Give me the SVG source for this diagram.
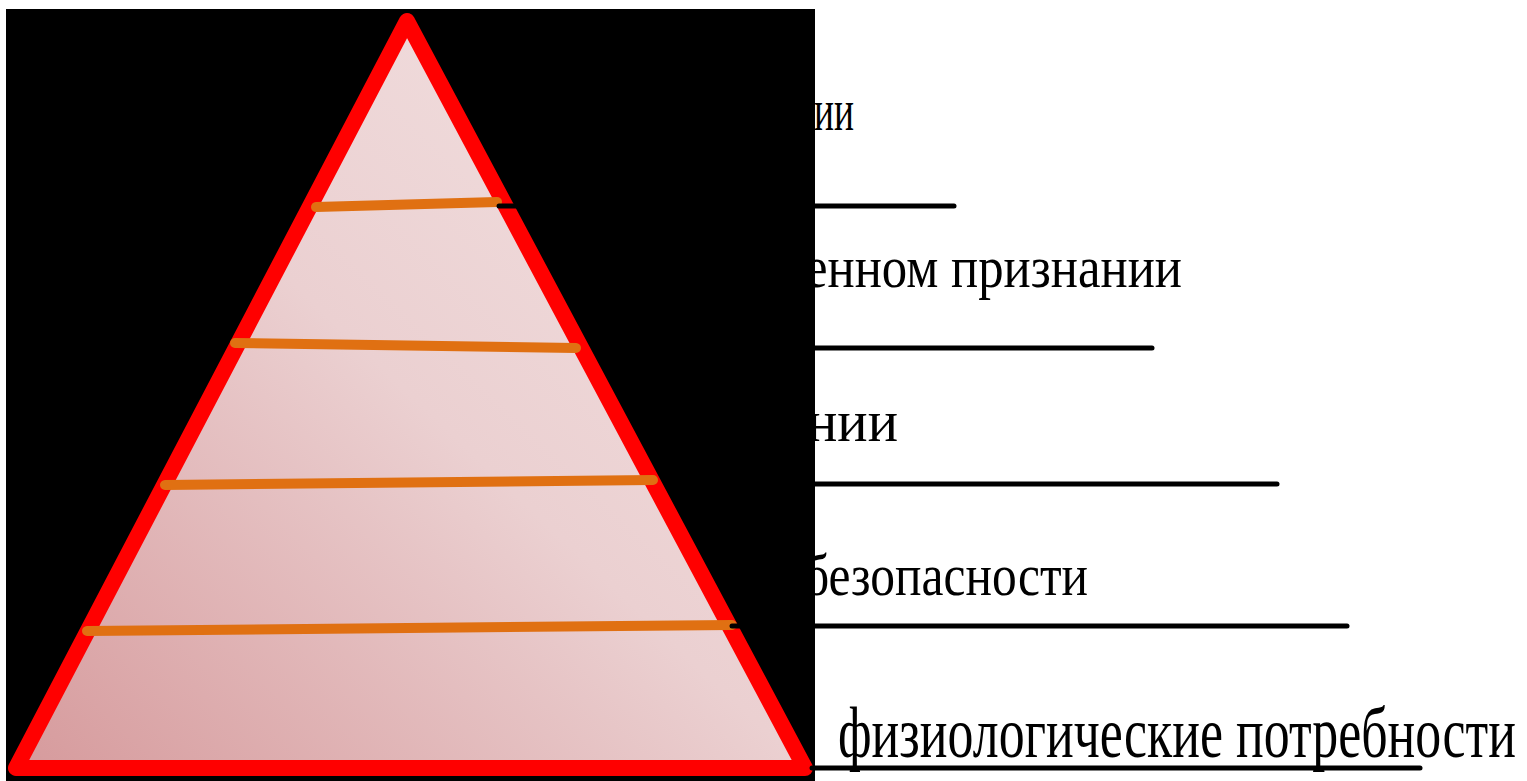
<svg xmlns="http://www.w3.org/2000/svg" width="1527" height="781" viewBox="0 0 1527 781">
<defs>
<linearGradient id="pink" x1="0" y1="1" x2="1" y2="0">
<stop offset="0" stop-color="#d69a9c"/>
<stop offset="0.5" stop-color="#ebd0d1"/>
<stop offset="1" stop-color="#f3e3e3"/>
</linearGradient>
<style>
.lbl{font-family:"Liberation Serif","Times New Roman",serif;fill:#000;}
.ul{stroke:#000;stroke-width:5;stroke-linecap:round;}
.lvl{stroke:#e07012;stroke-width:10;stroke-linecap:round;fill:none;}
</style>
</defs>
<rect width="1527" height="781" fill="#fff"/>
<g id="labels">
<text class="lbl" x="814" y="130" font-size="60" textLength="40" lengthAdjust="spacingAndGlyphs">ии</text>
<text class="lbl" x="805" y="287" font-size="60" textLength="377" lengthAdjust="spacingAndGlyphs">енном признании</text>
<text class="lbl" x="807" y="441" font-size="60" textLength="91" lengthAdjust="spacingAndGlyphs">нии</text>
<text class="lbl" x="804" y="595" font-size="60" textLength="284" lengthAdjust="spacingAndGlyphs">безопасности</text>
</g>
<rect id="panel" x="6" y="9" width="809" height="772" fill="#000"/>
<g id="pyramid">
<polygon points="407,21 16,768 805,768" fill="url(#pink)" stroke="#ff0000" stroke-width="16" stroke-linejoin="round"/>
<line class="lvl" x1="316" y1="207" x2="497" y2="202"/>
<line class="lvl" x1="235" y1="343" x2="576" y2="348"/>
<line class="lvl" x1="165" y1="485" x2="653" y2="480"/>
<line class="lvl" x1="87" y1="631" x2="732" y2="625"/>
</g>
<g id="connectors">
<line class="ul" x1="499" y1="206" x2="954" y2="206"/>
<line class="ul" x1="812" y1="348" x2="1152" y2="348"/>
<line class="ul" x1="812" y1="484" x2="1277" y2="484"/>
<line class="ul" x1="732" y1="626" x2="1347" y2="626"/>
<line class="ul" x1="812" y1="768" x2="1420" y2="768"/>
</g>
<g id="base-label">
<text class="lbl" x="838" y="757" font-size="72" textLength="678" lengthAdjust="spacingAndGlyphs">физиологические потребности</text>
</g>
</svg>
